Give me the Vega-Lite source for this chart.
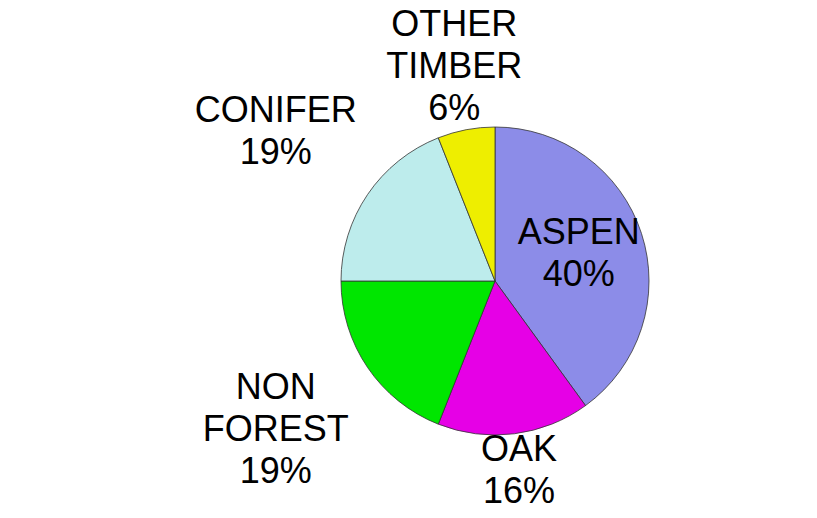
{
  "$schema": "https://vega.github.io/schema/vega-lite/v6.json",
  "autosize": {"type": "none"},
  "width": 644,
  "height": 474,
  "padding": {"left": 173, "top": 44, "right": 0, "bottom": 0},
  "background": "white",
  "config": {"view": {"stroke": null}, "text": {"font": "Liberation Sans"}},
  "data": {
    "values": [
      {"idx": 1, "category": "ASPEN", "value": 40, "label": "ASPEN\n40%"},
      {"idx": 2, "category": "OAK", "value": 16, "label": "OAK\n16%"},
      {"idx": 3, "category": "NON FOREST", "value": 19, "label": "NON\nFOREST\n19%"},
      {"idx": 4, "category": "CONIFER", "value": 19, "label": "CONIFER\n19%"},
      {"idx": 5, "category": "OTHER TIMBER", "value": 6, "label": "OTHER\nTIMBER\n6%"}
    ]
  },
  "encoding": {
    "theta": {"field": "value", "type": "quantitative", "stack": true},
    "order": {"field": "idx", "type": "quantitative"}
  },
  "layer": [
    {
      "mark": {"type": "arc", "outerRadius": 154, "stroke": "#333333", "strokeWidth": 0.8},
      "encoding": {
        "color": {
          "field": "category",
          "type": "nominal",
          "scale": {
            "domain": ["ASPEN", "OAK", "NON FOREST", "CONIFER", "OTHER TIMBER"],
            "range": ["#8C8CE8", "#E600E6", "#00E600", "#BDECEC", "#EEEE00"]
          },
          "legend": null
        }
      }
    },
    {
      "mark": {"type": "text", "radius": 88, "dy": -21, "fontSize": 36, "lineHeight": 42, "lineBreak": "\n", "color": "black", "align": "center", "baseline": "middle"},
      "encoding": {
        "text": {"field": "label"},
        "opacity": {"condition": {"test": "datum.category === 'ASPEN'", "value": 1}, "value": 0}
      }
    },
    {
      "mark": {"type": "text", "radius": 218, "dy": -42, "fontSize": 36, "lineHeight": 42, "lineBreak": "\n", "color": "black", "align": "center", "baseline": "middle"},
      "encoding": {
        "text": {"field": "label"},
        "opacity": {"condition": {"test": "datum.category === 'OTHER TIMBER'", "value": 1}, "value": 0}
      }
    },
    {
      "mark": {"type": "text", "radius": 192, "dy": -21, "fontSize": 36, "lineHeight": 42, "lineBreak": "\n", "color": "black", "align": "center", "baseline": "middle"},
      "encoding": {
        "text": {"field": "label"},
        "opacity": {"condition": {"test": "datum.category === 'OAK'", "value": 1}, "value": 0}
      }
    },
    {
      "mark": {"type": "text", "radius": 265, "dy": -21, "fontSize": 36, "lineHeight": 42, "lineBreak": "\n", "color": "black", "align": "center", "baseline": "middle"},
      "encoding": {
        "text": {"field": "label"},
        "opacity": {"condition": {"test": "datum.category === 'CONIFER'", "value": 1}, "value": 0}
      }
    },
    {
      "mark": {"type": "text", "radius": 265, "dy": -42, "fontSize": 36, "lineHeight": 42, "lineBreak": "\n", "color": "black", "align": "center", "baseline": "middle"},
      "encoding": {
        "text": {"field": "label"},
        "opacity": {"condition": {"test": "datum.category === 'NON FOREST'", "value": 1}, "value": 0}
      }
    }
  ]
}
